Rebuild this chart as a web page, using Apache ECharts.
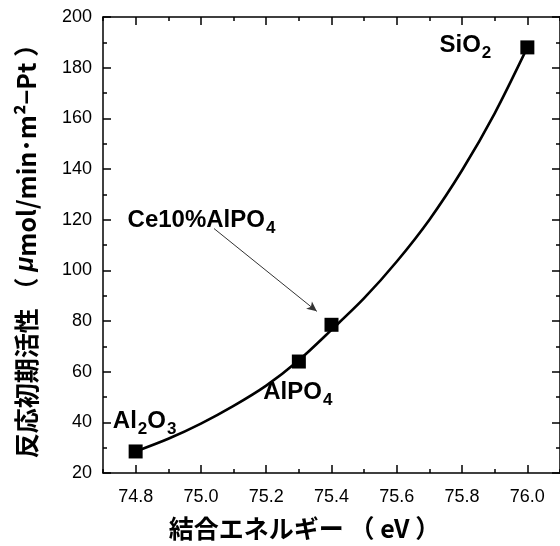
<!DOCTYPE html>
<html>
<head>
<meta charset="utf-8">
<script src="https://cdn.jsdelivr.net/npm/echarts@6/dist/echarts.min.js"></script>
<style>
  html, body { margin: 0; padding: 0; background: #fff; }
  #chart { width: 560px; height: 546px; }
</style>
</head>
<body>
<div id="chart"></div>
<script>
// measured points
const energy = [74.8, 75.3, 75.4, 76.0];
const activity = [28.5, 64, 78.5, 188];
const sampleLabels = ['{n|Al}{s|2}{n|O}{s|3}', '{n|AlPO}{s|4}', '{n|Ce10%AlPO}{s|4}', '{n|SiO}{s|2}'];

// fitted curve, every 0.1 eV
const curveX = [74.8, 74.9, 75.0, 75.1, 75.2, 75.3, 75.4, 75.5, 75.6, 75.7, 75.8, 75.9, 76.0];
const curveY = [28.5, 33.5, 39.5, 46.5, 54.5, 64.5, 76.5, 89, 103.5, 120, 139.5, 162, 188];

// tick labels
const xTicks = [74.8, 75.0, 75.2, 75.4, 75.6, 75.8, 76.0];

// arrow for Ce10%AlPO4 (start, end)
const arrowFrom = [75.04, 116.5];
const arrowTo = [75.355, 83.8];

// label offsets in px (style, not data)
const labelOffsets = [[9, -30], [-1, 31], [-130, -104], [-62, -2]];

const chart = echarts.init(document.getElementById('chart'));

const latin = "'Liberation Sans', Arial, sans-serif";
const jp = "'Noto Sans CJK JP', 'Liberation Sans', sans-serif";
const black = '#000';

function majorX(pos, showLabel) {
  return {
    type: 'value', position: pos, min: 74.7, max: 76.1,
    axisLine: { show: true, onZero: false, lineStyle: { color: black, width: 1.5 } },
    axisTick: { show: true, inside: true, length: 8, customValues: xTicks, lineStyle: { color: black, width: 1.5 } },
    axisLabel: {
      show: showLabel, customValues: xTicks, margin: 15,
      formatter: v => v.toFixed(1),
      color: black, fontSize: 18, fontFamily: latin
    },
    splitLine: { show: false }
  };
}
function minorX(pos) {
  return {
    type: 'value', position: pos, min: 74.7, max: 76.1, interval: 0.1,
    axisLine: { show: false },
    axisTick: { show: true, inside: true, length: 4, lineStyle: { color: black, width: 1.5 } },
    axisLabel: { show: false },
    splitLine: { show: false }
  };
}

const xMain = majorX('bottom', true);
xMain.name = '結合エネルギー （ eV ）';
xMain.nameLocation = 'middle';
xMain.nameGap = 43;
xMain.nameTextStyle = { color: black, fontSize: 25, fontWeight: 'bold', fontFamily: jp, padding: [0, 54, 0, 0] };

const yBase = {
  type: 'value', min: 20, max: 200, interval: 20,
  axisLine: { show: true, onZero: false, lineStyle: { color: black, width: 1.5 } },
  axisTick: { show: true, inside: true, length: 8, lineStyle: { color: black, width: 1.5 } },
  minorTick: { show: true, splitNumber: 2, length: 4, lineStyle: { color: black, width: 1.5 } },
  splitLine: { show: false },
  minorSplitLine: { show: false }
};

chart.setOption({
  animation: false,
  backgroundColor: '#fff',
  grid: { left: 103, right: -3, top: 17, bottom: 72 },
  xAxis: [xMain, minorX('bottom'), majorX('top', false), minorX('top')],
  yAxis: [
    Object.assign({}, yBase, {
      position: 'left',
      axisLabel: { color: black, fontSize: 18, fontFamily: latin, margin: 11 },
      name: '反応初期活性 （ {mu|μ}mol/min･m²−Pt ）',
      nameLocation: 'middle',
      nameRotate: 90,
      nameGap: 64,
      nameTextStyle: {
        color: black, fontSize: 25, fontWeight: 'bold', fontFamily: jp,
        rich: { mu: { fontSize: 25, fontWeight: 'bold', fontStyle: 'italic', fontFamily: latin } }
      }
    }),
    Object.assign({}, yBase, { position: 'right', axisLabel: { show: false } })
  ],
  series: [
    {
      type: 'line',
      xAxisIndex: 0, yAxisIndex: 0,
      data: curveX.map((x, i) => [x, curveY[i]]),
      smooth: 0.3,
      showSymbol: false,
      symbol: 'none',
      lineStyle: { color: black, width: 2.6 },
      z: 2
    },
    {
      type: 'scatter',
      xAxisIndex: 0, yAxisIndex: 0,
      symbol: 'rect',
      symbolSize: 14,
      itemStyle: { color: black, opacity: 1 },
      data: energy.map((x, i) => ({
        value: [x, activity[i]],
        label: {
          show: true, position: 'inside', offset: labelOffsets[i],
          formatter: sampleLabels[i],
          rich: {
            n: { fontSize: 24, fontWeight: 'bold', color: black, fontFamily: latin, lineHeight: 28 },
            s: { fontSize: 17, fontWeight: 'bold', color: black, fontFamily: latin, lineHeight: 28, padding: [15, 0, 0, 1] }
          }
        }
      })),
      markLine: {
        silent: true,
        symbol: ['none', 'arrow'],
        symbolSize: [7, 10],
        lineStyle: { color: '#333', width: 1, type: 'solid' },
        label: { show: false },
        data: [[{ coord: arrowFrom }, { coord: arrowTo }]]
      },
      z: 3
    }
  ]
});
</script>
</body>
</html>
